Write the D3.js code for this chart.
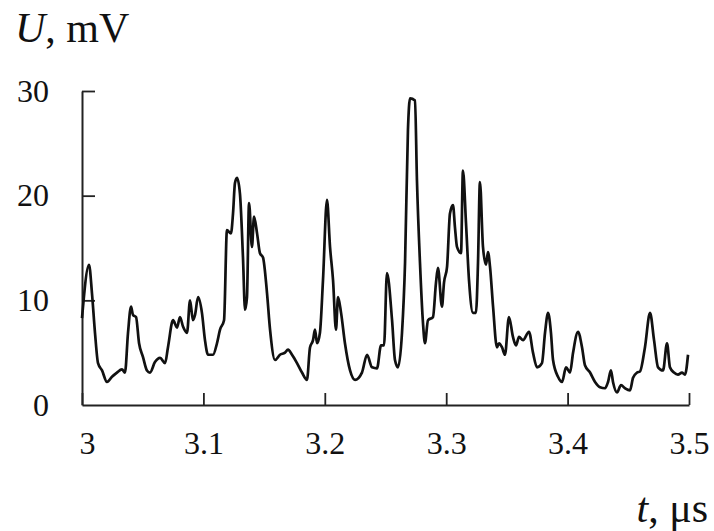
<!DOCTYPE html>
<html>
<head>
<meta charset="utf-8">
<script src="https://cdn.jsdelivr.net/npm/d3@7"></script>
<style>
  body { margin: 0; background: #fff; }
  svg { display: block; }
  text { font-family: "Liberation Serif", "DejaVu Serif", serif; fill: #111; }
</style>
</head>
<body>
<svg width="714" height="531"></svg>
<script>
// time, μs
const times = [
  3.0000, 3.0058, 3.0082, 3.0107, 3.0132, 3.0165, 3.0206, 3.0247, 3.0288, 3.0329,
  3.0354, 3.0379, 3.0404, 3.0420, 3.0445, 3.0470, 3.0502, 3.0535, 3.0560, 3.0601,
  3.0643, 3.0684, 3.0708, 3.0750, 3.0783, 3.0807, 3.0832, 3.0865, 3.0890, 3.0914,
  3.0931, 3.0956, 3.0988, 3.1013, 3.1038, 3.1079, 3.1112, 3.1137, 3.1170, 3.1194,
  3.1227, 3.1244, 3.1260, 3.1277, 3.1301, 3.1326, 3.1343, 3.1359, 3.1376, 3.1400,
  3.1417, 3.1442, 3.1466, 3.1491, 3.1524, 3.1549, 3.1590, 3.1631, 3.1672, 3.1697,
  3.1730, 3.1771, 3.1812, 3.1853, 3.1878, 3.1903, 3.1919, 3.1936, 3.1960, 3.1985,
  3.2018, 3.2043, 3.2068, 3.2092, 3.2109, 3.2134, 3.2166, 3.2208, 3.2249, 3.2306,
  3.2348, 3.2389, 3.2430, 3.2463, 3.2488, 3.2512, 3.2554, 3.2578, 3.2603, 3.2636,
  3.2661, 3.2685, 3.2702, 3.2743, 3.2759, 3.2784, 3.2809, 3.2825, 3.2850, 3.2891,
  3.2916, 3.2932, 3.2965, 3.2982, 3.3007, 3.3031, 3.3056, 3.3072, 3.3089, 3.3122,
  3.3138, 3.3163, 3.3188, 3.3221, 3.3245, 3.3262, 3.3278, 3.3303, 3.3328, 3.3344,
  3.3361, 3.3386, 3.3418, 3.3435, 3.3460, 3.3484, 3.3517, 3.3550, 3.3575, 3.3600,
  3.3633, 3.3682, 3.3715, 3.3748, 3.3789, 3.3814, 3.3839, 3.3863, 3.3880, 3.3921,
  3.3954, 3.3987, 3.4020, 3.4045, 3.4086, 3.4119, 3.4143, 3.4185, 3.4226, 3.4267,
  3.4308, 3.4333, 3.4357, 3.4374, 3.4407, 3.4440, 3.4473, 3.4514, 3.4539, 3.4572,
  3.4596, 3.4637, 3.4679, 3.4712, 3.4745, 3.4786, 3.4819, 3.4843, 3.4876, 3.4909,
  3.4942, 3.4967, 3.4992
];
// voltage, mV
const volts = [
  8.3, 13.4, 10.7, 6.9, 4.0, 3.3, 2.2, 2.7, 3.1, 3.4,
  3.1, 6.9, 9.4, 8.6, 8.4, 5.9, 4.6, 3.3, 3.1, 4.1,
  4.5, 4.0, 5.5, 8.1, 7.4, 8.4, 7.5, 6.9, 10.0, 8.1,
  8.6, 10.3, 8.8, 6.2, 4.8, 4.8, 5.9, 7.2, 8.1, 16.7,
  16.4, 18.3, 21.2, 21.7, 20.2, 14.1, 9.1, 10.3, 19.3, 15.1,
  18.0, 16.4, 14.5, 14.1, 10.7, 7.2, 4.3, 4.8, 5.0, 5.3,
  4.8, 4.0, 3.1, 2.4, 5.5, 6.2, 7.2, 5.9, 6.9, 11.9,
  19.6, 15.1, 11.9, 7.2, 10.3, 8.8, 5.9, 3.3, 2.4, 3.1,
  4.8, 3.6, 3.5, 5.7, 5.7, 12.6, 8.1, 4.3, 3.6, 6.9,
  13.6, 26.3, 29.3, 29.1, 21.5, 13.6, 7.8, 5.9, 8.1, 8.4,
  11.7, 13.1, 9.4, 11.7, 13.2, 18.3, 19.1, 17.0, 15.1, 14.5,
  22.4, 17.4, 11.9, 8.8, 8.8, 13.6, 21.3, 15.1, 13.4, 14.6,
  13.2, 9.4, 5.5, 5.9, 5.5, 4.8, 8.4, 6.5, 5.7, 6.5,
  6.2, 7.0, 5.0, 3.6, 4.0, 6.9, 8.8, 6.9, 4.3, 2.7,
  2.2, 3.6, 3.1, 5.0, 7.0, 5.5, 3.8, 3.1, 2.2, 1.7,
  1.6, 2.2, 3.3, 2.2, 1.2, 1.9, 1.6, 1.4, 2.6, 3.1,
  3.2, 5.5, 8.8, 6.2, 3.6, 3.3, 5.9, 3.6, 3.1, 2.9,
  3.1, 2.9, 4.8
];
const xTicks = [3, 3.1, 3.2, 3.3, 3.4, 3.5];
const yTicks = [0, 10, 20, 30];

const svg = d3.select('svg');
const margin = { left: 82, right: 25, top: 91, bottom: 126 };
const width = 714, height = 531;

const x = d3.scaleLinear().domain([3, 3.5]).range([margin.left, width - margin.right]);
const y = d3.scaleLinear().domain([0, 30]).range([height - margin.bottom, margin.top]);

const data = times.map((t, i) => ({ t: t, u: volts[i] }));

// axes
const xAxis = d3.axisBottom(x)
  .tickValues(xTicks)
  .tickFormat(d3.format('~g'))
  .tickSizeInner(-12)
  .tickSizeOuter(0)
  .tickPadding(26);

const yAxis = d3.axisLeft(y)
  .tickValues(yTicks)
  .tickSizeInner(-13)
  .tickSizeOuter(0)
  .tickPadding(33);

const xG = svg.append('g')
  .attr('transform', `translate(0,${y(0)})`)
  .call(xAxis);
const yG = svg.append('g')
  .attr('transform', `translate(${x(3)},0)`)
  .call(yAxis);

[xG, yG].forEach(g => {
  g.select('.domain').attr('stroke', '#222').attr('stroke-width', 2);
  g.selectAll('.tick line').attr('stroke', '#222').attr('stroke-width', 1.8);
  g.selectAll('.tick text')
    .attr('font-family', '"Liberation Serif", serif')
    .attr('font-size', 32)
    .attr('fill', '#111');
});
// 0 tick on the y axis overlaps the x axis
yG.selectAll('.tick line').filter(d => d === 0).remove();
// first x label sits a little right of its tick
xG.selectAll('.tick text').filter(d => d === 3).attr('x', 5);

// signal
const line = d3.line()
  .curve(d3.curveMonotoneX)
  .x(d => x(d.t))
  .y(d => y(d.u));

svg.append('path')
  .datum(data)
  .attr('d', line)
  .attr('fill', 'none')
  .attr('stroke', '#111')
  .attr('stroke-width', 2.7)
  .attr('stroke-linejoin', 'round');

// axis titles
const yTitle = svg.append('text')
  .attr('x', 15)
  .attr('y', 42)
  .attr('font-size', 42);
yTitle.append('tspan').attr('font-style', 'italic').text('U');
yTitle.append('tspan').text(', mV');

const xTitle = svg.append('text')
  .attr('x', 708)
  .attr('y', 522)
  .attr('text-anchor', 'end')
  .attr('font-size', 42);
xTitle.append('tspan').attr('font-style', 'italic').text('t');
xTitle.append('tspan').text(', μs');
</script>
</body>
</html>
